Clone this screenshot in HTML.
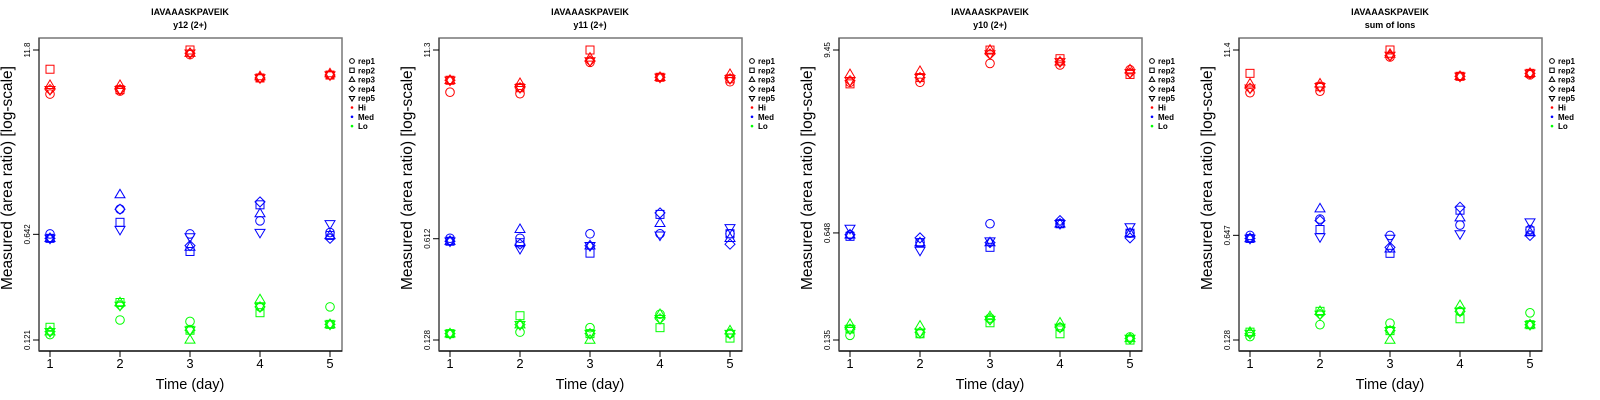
<!DOCTYPE html>
<html><head><meta charset="utf-8"><style>
html,body{margin:0;padding:0;background:#fff;}
svg{display:block;font-family:"Liberation Sans",sans-serif;}
</style></head><body>
<svg id="chart" width="1600" height="400" viewBox="0 0 1600 400" xmlns="http://www.w3.org/2000/svg"></svg>
<script>
// ---- data (log10 of measured area ratio), per panel, per level, per replicate, days 1..5
const days = [1, 2, 3, 4, 5];
const reps = ["rep1", "rep2", "rep3", "rep4", "rep5"];
const levels = ["Hi", "Med", "Lo"];
const panelTitles = ["y12 (2+)", "y11 (2+)", "y10 (2+)", "sum of Ions"];
const peptide = "IAVAAASKPAVEIK";
const yTickLabels = [["0.121", "0.642", "11.8"], ["0.128", "0.612", "11.3"], ["0.135", "0.648", "9.45"], ["0.128", "0.647", "11.4"]];

const p1Hi = [[0.77,0.79,1.04,0.88,0.90],[0.94,0.80,1.072,0.88,0.90],[0.83,0.83,1.05,0.89,0.91],[0.80,0.80,1.05,0.88,0.90],[0.80,0.80,1.05,0.88,0.90]];
const p1Med = [[-0.19,-0.02,-0.19,-0.10,-0.18],[-0.22,-0.11,-0.31,0.01,-0.20],[-0.22,0.08,-0.28,-0.05,-0.20],[-0.22,-0.02,-0.27,0.03,-0.22],[-0.22,-0.16,-0.21,-0.18,-0.12]];
const p1Lo = [[-0.88,-0.78,-0.79,-0.69,-0.69],[-0.83,-0.66,-0.85,-0.73,-0.81],[-0.86,-0.66,-0.917,-0.64,-0.81],[-0.86,-0.68,-0.85,-0.69,-0.81],[-0.86,-0.68,-0.85,-0.69,-0.81]];

const p2Hi = [[0.77,0.76,0.97,0.87,0.84],[0.85,0.80,1.053,0.87,0.86],[0.85,0.83,1.00,0.87,0.89],[0.85,0.80,0.98,0.87,0.86],[0.85,0.80,0.98,0.87,0.86]];
const p2Med = [[-0.21,-0.21,-0.18,-0.18,-0.18],[-0.23,-0.24,-0.31,-0.05,-0.18],[-0.23,-0.15,-0.26,-0.11,-0.21],[-0.23,-0.25,-0.26,-0.04,-0.25],[-0.23,-0.28,-0.26,-0.19,-0.14]];
const p2Lo = [[-0.85,-0.84,-0.81,-0.72,-0.85],[-0.85,-0.73,-0.85,-0.81,-0.88],[-0.85,-0.79,-0.893,-0.72,-0.83],[-0.85,-0.79,-0.85,-0.75,-0.85],[-0.85,-0.79,-0.85,-0.75,-0.85]];

const p3Hi = [[0.77,0.77,0.89,0.88,0.85],[0.76,0.80,0.975,0.92,0.82],[0.82,0.84,0.975,0.90,0.85],[0.78,0.80,0.95,0.90,0.83],[0.78,0.80,0.95,0.90,0.83]];
const p3Med = [[-0.20,-0.25,-0.13,-0.13,-0.19],[-0.21,-0.25,-0.28,-0.13,-0.19],[-0.20,-0.25,-0.25,-0.13,-0.19],[-0.20,-0.22,-0.25,-0.11,-0.22],[-0.16,-0.30,-0.24,-0.13,-0.15]];
const p3Lo = [[-0.84,-0.83,-0.73,-0.79,-0.85],[-0.80,-0.83,-0.76,-0.83,-0.87],[-0.77,-0.78,-0.72,-0.76,-0.86],[-0.80,-0.82,-0.74,-0.79,-0.86],[-0.80,-0.82,-0.74,-0.79,-0.86]];

const p4Hi = [[0.77,0.78,1.01,0.88,0.89],[0.90,0.81,1.057,0.88,0.90],[0.83,0.83,1.03,0.88,0.90],[0.80,0.81,1.02,0.88,0.90],[0.80,0.81,1.02,0.88,0.90]];
const p4Med = [[-0.19,-0.08,-0.19,-0.12,-0.15],[-0.21,-0.15,-0.31,-0.02,-0.16],[-0.21,-0.01,-0.28,-0.07,-0.17],[-0.21,-0.09,-0.27,0.00,-0.19],[-0.21,-0.20,-0.21,-0.18,-0.10]];
const p4Lo = [[-0.87,-0.79,-0.78,-0.70,-0.71],[-0.84,-0.70,-0.83,-0.75,-0.79],[-0.84,-0.70,-0.893,-0.66,-0.79],[-0.85,-0.72,-0.83,-0.70,-0.79],[-0.85,-0.72,-0.83,-0.70,-0.79]];

const panelData = [[p1Hi,p1Med,p1Lo],[p2Hi,p2Med,p2Lo],[p3Hi,p3Med,p3Lo],[p4Hi,p4Med,p4Lo]];

// ---- drawing
const NS = "http://www.w3.org/2000/svg";
const svg = document.getElementById("chart");
const colors = ["#ff0000", "#0000ff", "#00ff00"];
function mk(tag, attrs, parent) {
  const e = document.createElementNS(NS, tag);
  for (const k in attrs) e.setAttribute(k, attrs[k]);
  (parent || svg).appendChild(e);
  return e;
}
function marker(g, rep, cx, cy, col, s) {
  let e;
  const style = {fill: "none", stroke: col, "stroke-width": 1};
  if (rep === 0) e = mk("circle", Object.assign({cx: cx, cy: cy, r: 4.3 * s}, style), g);
  else if (rep === 1) e = mk("rect", Object.assign({x: cx - 4 * s, y: cy - 4 * s, width: 8 * s, height: 8 * s}, style), g);
  else if (rep === 2) e = mk("polygon", Object.assign({points: `${cx},${cy - 5.3 * s} ${cx - 5 * s},${cy + 3.2 * s} ${cx + 5 * s},${cy + 3.2 * s}`}, style), g);
  else if (rep === 3) e = mk("polygon", Object.assign({points: `${cx},${cy - 5 * s} ${cx + 5 * s},${cy} ${cx},${cy + 5 * s} ${cx - 5 * s},${cy}`}, style), g);
  else e = mk("polygon", Object.assign({points: `${cx},${cy + 5.3 * s} ${cx - 5 * s},${cy - 3.2 * s} ${cx + 5 * s},${cy - 3.2 * s}`}, style), g);
  return e;
}

for (let p = 0; p < 4; p++) {
  const ox = p * 400;
  const g = mk("g", {});
  
  
  const lmin = Math.log10(parseFloat(yTickLabels[p][0]));
  const lmax = Math.log10(parseFloat(yTickLabels[p][2]));
  const xS = d => ox + 50 + (d - 1) / 4 * 280;
  const yS = l => 340 - (l - lmin) / (lmax - lmin) * 290;

  const t1 = mk("text", {x: ox + 190, y: 15, "text-anchor": "middle", "font-size": 9, "font-weight": "bold"}, g);
  t1.textContent = peptide;
  
  
  const t2 = mk("text", {x: ox + 190, y: 28, "text-anchor": "middle", "font-size": 9, "font-weight": "bold"}, g);
  t2.textContent = panelTitles[p];
  
  

  const box = mk("rect", {x: ox + 39, y: 38, width: 303, height: 313, fill: "none", stroke: "#777", "stroke-width": 1.5}, g);
  
  
  mk("line", {x1: ox + 39, y1: 351, x2: ox + 342, y2: 351, stroke: "#000", "stroke-width": 1.2}, g);
  mk("line", {x1: ox + 39, y1: 38, x2: ox + 39, y2: 351, stroke: "#444", "stroke-width": 1.2}, g);

  days.forEach(d => {
    mk("line", {x1: xS(d), y1: 351, x2: xS(d), y2: 357, stroke: "#000"}, g);
    const t = mk("text", {x: xS(d), y: 368, "text-anchor": "middle", "font-size": 13}, g);
    t.textContent = String(d);
    
    
  });
  const xt = mk("text", {x: ox + 190, y: 389, "text-anchor": "middle", "font-size": 14.5}, g);
  xt.textContent = "Time (day)";
  
  

  const tickLogs = [lmin, Math.log10(parseFloat(yTickLabels[p][1])), lmax];
  tickLogs.forEach((l, i) => {
    const y = yS(l);
    mk("line", {x1: ox + 33, y1: y, x2: ox + 39, y2: y, stroke: "#000"}, g);
    const t = mk("text", {x: ox + 30, y: y, "text-anchor": "middle", "font-size": 8, transform: `rotate(-90 ${ox + 30} ${y})`}, g);
    t.textContent = yTickLabels[p][i];
    
    
  });
  const yt = mk("text", {x: ox + 12, y: 178, "text-anchor": "middle", "font-size": 15.5, transform: `rotate(-90 ${ox + 12} 178)`}, g);
  yt.textContent = "Measured (area ratio) [log-scale]";
  
  

  levels.forEach((lv, li) => {
    panelData[p][li].forEach((row, ri) => {
      row.forEach((v, di) => {
        const m = marker(g, ri, xS(days[di]), yS(v), colors[li], 1);
        
        
      });
    });
  });

  const lg = mk("g", {}, g);
  
  
  const entries = reps.concat(levels);
  entries.forEach((name, i) => {
    const y = 61 + i * 9.3;
    const cx = ox + 352;
    if (i < 5) marker(lg, i, cx, y, "#000", 0.55);
    else mk("circle", {cx: cx, cy: y, r: 1.3, fill: colors[i - 5]}, lg);
    const t = mk("text", {x: ox + 358, y: y + 3, "font-size": 8, "font-weight": "bold"}, lg);
    t.textContent = name;
    
    
  });
}
</script>
</body></html>
